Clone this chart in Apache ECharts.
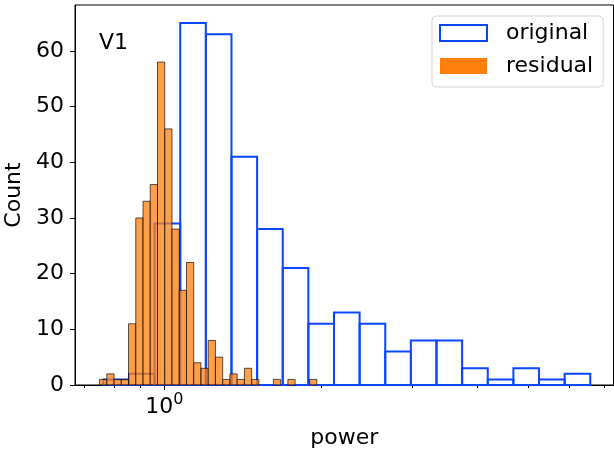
<!DOCTYPE html>
<html>
<head>
<meta charset="utf-8">
<script src="https://cdn.jsdelivr.net/npm/echarts@6/dist/echarts.min.js"></script>
<style>
html,body{margin:0;padding:0;background:#fff;}
#chart{width:614px;height:451px;}
</style>
</head>
<body>
<div id="chart"></div>
<script>
// ---- data ----
// "original" histogram: bin edges (power) and counts
const origEdges = [0.7633, 0.8550, 0.9577, 1.0727, 1.2015, 1.3458, 1.5075, 1.6886, 1.8914, 2.1186,
                   2.3731, 2.6581, 2.9774, 3.3350, 3.7356, 4.1843, 4.6869, 5.2498, 5.8805, 6.5868];
const origCounts = [1, 2, 29, 65, 63, 41, 28, 21, 11, 13, 11, 6, 8, 8, 3, 1, 3, 1, 2];

// "residual" histogram: bin edges (power) and counts
const resEdges = [0.7506, 0.7750, 0.8003, 0.8264, 0.8533, 0.8811, 0.9098, 0.9394, 0.9700, 1.0016,
                  1.0343, 1.0680, 1.1028, 1.1387, 1.1758, 1.2141, 1.2536, 1.2944, 1.3366, 1.3801,
                  1.4251, 1.4715, 1.5194, 1.5689, 1.6200, 1.6728, 1.7273, 1.7836, 1.8417, 1.9017, 1.9636];
const resCounts = [1, 2, 1, 1, 11, 30, 33, 36, 58, 46, 28, 17, 22, 4, 3, 8, 5, 1, 2, 1, 3, 1, 0, 0, 1, 0, 1, 0, 0, 1];

const xRange = [0.6733, 7.30];
const yRange = [0, 68.25];
const yTicks = [0, 10, 20, 30, 40, 50, 60];
const xMajorTicks = [1];
const xMinorTicks = [0.7, 0.8, 0.9, 2, 3, 4, 5, 6, 7];
const seriesNames = ['original', 'residual'];
const panelLabel = 'V1';
const xLabel = 'power';
const yLabel = 'Count';

// ---- build ----
const L = Math.log10;
function bins(edges, counts) {
  const out = [];
  for (let i = 0; i < counts.length; i++) {
    if (counts[i] > 0) out.push([L(edges[i]), L(edges[i + 1]), counts[i]]);
  }
  return out;
}
const FONT = 'DejaVu Sans';
const BLUE = '#0a46ff';
const ORANGE = '#ff7f0e';

function rectItem(fill, stroke, lw) {
  return function (params, api) {
    const p0 = api.coord([api.value(0), api.value(2)]);
    const p1 = api.coord([api.value(1), 0]);
    return {
      type: 'rect',
      shape: { x: p0[0], y: p0[1], width: p1[0] - p0[0], height: p1[1] - p0[1] },
      style: { fill: fill, stroke: stroke, lineWidth: lw }
    };
  };
}

const chart = echarts.init(document.getElementById('chart'), null, { renderer: 'canvas' });
chart.setOption({
  animation: false,
  backgroundColor: '#fff',
  textStyle: { fontFamily: FONT },
  title: {
    text: panelLabel, left: 99, top: 32, padding: 0,
    textStyle: { fontFamily: FONT, fontSize: 22, fontWeight: 'normal', color: '#000' }
  },
  legend: {
    orient: 'vertical', left: 432, top: 16,
    padding: [4, 10, 8, 7], itemGap: 7, itemWidth: 47, itemHeight: 16,
    backgroundColor: '#fff', borderColor: '#d6d6d6', borderWidth: 1, borderRadius: 4,
    selectedMode: false,
    textStyle: { fontFamily: FONT, fontSize: 22, color: '#000', lineHeight: 26, padding: [0, 0, 0, 14] },
    data: [
      { name: seriesNames[0], icon: 'rect', itemStyle: { color: '#fff', borderColor: BLUE, borderWidth: 2 } },
      { name: seriesNames[1], icon: 'rect', itemStyle: { color: ORANGE, borderWidth: 0 } }
    ]
  },
  grid: {
    left: 75, right: 0.5, top: 5, bottom: 66,
    outerBoundsMode: 'none', containLabel: false,
    show: true, borderColor: '#000', borderWidth: 1, backgroundColor: 'transparent'
  },
  xAxis: [
    {
      type: 'value', position: 'bottom', min: L(xRange[0]), max: L(xRange[1]),
      splitLine: { show: false },
      axisLine: { show: true, onZero: false, lineStyle: { color: '#000', width: 1 } },
      axisTick: { show: true, length: 5, lineStyle: { color: '#000', width: 1 }, customValues: xMajorTicks.map(L) },
      axisLabel: {
        show: true, margin: 7, customValues: xMajorTicks.map(L),
        formatter: function (v) { return '{a|10}{b|' + Math.round(v) + '}'; },
        rich: {
          a: { fontFamily: FONT, fontSize: 22, color: '#000', lineHeight: 26, verticalAlign: 'bottom' },
          b: { fontFamily: FONT, fontSize: 16, color: '#000', lineHeight: 16, verticalAlign: 'top' }
        }
      },
      name: xLabel, nameLocation: 'middle', nameGap: 42,
      nameTextStyle: { fontFamily: FONT, fontSize: 22, color: '#000' }
    },
    {
      type: 'value', position: 'bottom', min: L(xRange[0]), max: L(xRange[1]),
      splitLine: { show: false },
      axisLine: { show: false, onZero: false },
      axisTick: { show: true, length: 3, lineStyle: { color: '#000', width: 1 }, customValues: xMinorTicks.map(L) },
      axisLabel: { show: false }
    }
  ],
  yAxis: {
    type: 'value', min: yRange[0], max: yRange[1],
    splitLine: { show: false },
    axisLine: { show: true, onZero: false, lineStyle: { color: '#000', width: 1 } },
    axisTick: { show: true, length: 5, lineStyle: { color: '#000', width: 1 }, customValues: yTicks },
    axisLabel: { customValues: yTicks, margin: 11, padding: [4, 0, 0, 0], fontFamily: FONT, fontSize: 22, color: '#000' },
    name: yLabel, nameLocation: 'middle', nameGap: 40,
    nameTextStyle: { fontFamily: FONT, fontSize: 22, color: '#000' }
  },
  series: [
    {
      name: seriesNames[0], type: 'custom', xAxisIndex: 0,
      encode: { x: [0, 1], y: 2 },
      renderItem: rectItem('rgba(0,0,0,0)', BLUE, 2),
      data: bins(origEdges, origCounts), z: 2
    },
    {
      name: seriesNames[1], type: 'custom', xAxisIndex: 0,
      encode: { x: [0, 1], y: 2 },
      renderItem: rectItem('rgba(255,127,14,0.75)', 'rgba(0,0,0,0.65)', 1),
      data: bins(resEdges, resCounts), z: 3
    }
  ]
});
</script>
</body>
</html>
